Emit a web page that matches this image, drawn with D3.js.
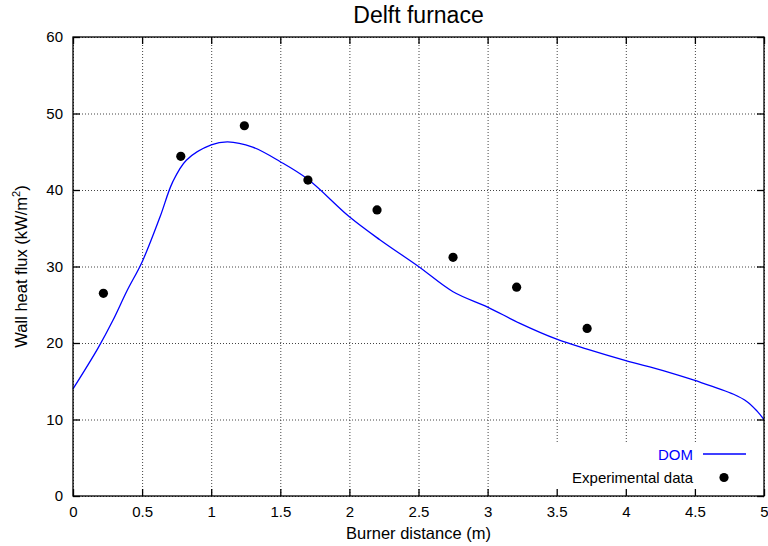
<!DOCTYPE html>
<html>
<head>
<meta charset="utf-8">
<script src="https://cdn.jsdelivr.net/npm/d3@7"></script>
<style>
  body { margin: 0; background: #fff; }
  text { font-family: "Liberation Sans", Arial, sans-serif; }
</style>
</head>
<body>
<svg id="chart" width="768" height="546"></svg>
<script>
// DOM curve
const domX = [0, 0.18, 0.29, 0.39, 0.5, 0.63, 0.72, 0.82, 1.0, 1.12, 1.3, 1.5, 1.7, 2.0, 2.22, 2.5, 2.75, 3.0, 3.23, 3.5, 3.72, 4.0, 4.27, 4.5, 4.78, 4.88, 4.95, 5.0];
const domY = [14.0, 19.3, 23.0, 26.8, 30.6, 36.5, 41.0, 43.9, 45.9, 46.3, 45.6, 43.7, 41.4, 36.5, 33.5, 30.0, 26.7, 24.7, 22.6, 20.5, 19.2, 17.7, 16.4, 15.1, 13.3, 12.3, 11.1, 10.0];

// experimental points
const expX = [0.22, 0.78, 1.24, 1.70, 2.20, 2.75, 3.21, 3.72];
const expY = [26.5, 44.4, 48.4, 41.3, 37.4, 31.2, 27.3, 21.9];

const xTicks = [0, 0.5, 1, 1.5, 2, 2.5, 3, 3.5, 4, 4.5, 5];
const yTicks = [0, 10, 20, 30, 40, 50, 60];

const pl = 73, pr = 764, pt = 37, pb = 496;
const svg = d3.select('#chart');

const x = d3.scaleLinear().domain([0, 5]).range([pl, pr]);
const y = d3.scaleLinear().domain([0, 60]).range([pb, pt]);

// grid
let grid = svg.append('g').attr('class', 'grid');
grid.append('g')
  .attr('transform', `translate(0,${pb})`)
  .call(d3.axisBottom(x).tickValues(xTicks).tickSize(-(pb - pt)).tickFormat(''));
grid.append('g')
  .attr('transform', `translate(${pl},0)`)
  .call(d3.axisLeft(y).tickValues(yTicks).tickSize(-(pr - pl)).tickFormat(''));
grid.selectAll('.domain').remove();
grid.selectAll('line')
  .attr('stroke', '#444')
  .attr('stroke-width', 1)
  .attr('stroke-dasharray', '1,2');

// legend background hides the grid under it
svg.append('rect')
  .attr('x', 545).attr('y', 443)
  .attr('width', pr - 545).attr('height', pb - 443)
  .attr('fill', '#fff');

// curve
let line = d3.line()
  .x((d, i) => x(domX[i]))
  .y(d => y(d))
  .curve(d3.curveCatmullRom.alpha(0.5));
svg.append('path')
  .datum(domY)
  .attr('d', line)
  .attr('fill', 'none')
  .attr('stroke', '#0000ff')
  .attr('stroke-width', 1.3);

// points
svg.append('g').selectAll('circle')
  .data(expY)
  .join('circle')
  .attr('cx', (d, i) => x(expX[i]))
  .attr('cy', d => y(d))
  .attr('r', 4.6)
  .attr('fill', '#000');

// axes, ticks pointing inward
let axes = svg.append('g').attr('class', 'axes');
axes.append('g')
  .attr('transform', `translate(0,${pb})`)
  .call(d3.axisBottom(x).tickValues(xTicks).tickSize(-7).tickPadding(10).tickFormat(d3.format('')));
axes.append('g')
  .attr('transform', `translate(${pl},0)`)
  .call(d3.axisLeft(y).tickValues(yTicks).tickSize(-7).tickPadding(10));
axes.append('g')
  .attr('transform', `translate(0,${pt})`)
  .call(d3.axisTop(x).tickValues(xTicks).tickSize(-7).tickFormat(''));
axes.append('g')
  .attr('transform', `translate(${pr},0)`)
  .call(d3.axisRight(y).tickValues(yTicks).tickSize(-7).tickFormat(''));
axes.selectAll('.domain').remove();
axes.selectAll('line').attr('stroke', '#000').attr('stroke-width', 1.3);
axes.selectAll('text')
  .attr('font-size', 15)
  .attr('fill', '#000')
  .style('font-family', '"Liberation Sans", Arial, sans-serif');

svg.append('rect')
  .attr('x', pl).attr('y', pt)
  .attr('width', pr - pl).attr('height', pb - pt)
  .attr('fill', 'none')
  .attr('stroke', '#000')
  .attr('stroke-width', 1.3);

// legend
svg.append('text')
  .attr('x', 693).attr('y', 460)
  .attr('text-anchor', 'end')
  .attr('font-size', 15)
  .attr('fill', '#0000ff')
  .text('DOM');
svg.append('line')
  .attr('x1', 703).attr('x2', 746)
  .attr('y1', 454).attr('y2', 454)
  .attr('stroke', '#0000ff')
  .attr('stroke-width', 1.3);
svg.append('text')
  .attr('x', 693).attr('y', 483)
  .attr('text-anchor', 'end')
  .attr('font-size', 15)
  .attr('fill', '#000')
  .text('Experimental data');
svg.append('circle')
  .attr('cx', 724).attr('cy', 477.5)
  .attr('r', 4.6)
  .attr('fill', '#000');

// titles
svg.append('text')
  .attr('x', (pl + pr) / 2).attr('y', 23)
  .attr('text-anchor', 'middle')
  .attr('font-size', 23)
  .text('Delft furnace');
svg.append('text')
  .attr('x', (pl + pr) / 2).attr('y', 539)
  .attr('text-anchor', 'middle')
  .attr('font-size', 16.5)
  .text('Burner distance (m)');
let yl = svg.append('text')
  .attr('transform', `translate(27,${(pt + pb) / 2}) rotate(-90)`)
  .attr('text-anchor', 'middle')
  .attr('font-size', 16.5);
yl.append('tspan').text('Wall heat flux (kW/m');
yl.append('tspan').attr('font-size', 11).attr('dy', -7).text('2');
yl.append('tspan').attr('dy', 7).text(')');
</script>
</body>
</html>
